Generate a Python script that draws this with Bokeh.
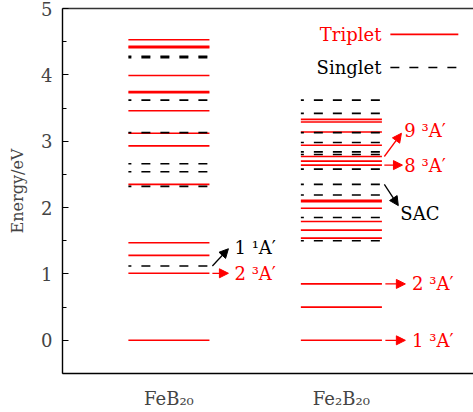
from bokeh.plotting import figure
from bokeh.models import ColumnDataSource, Range1d, FixedTicker, LinearAxis, Arrow, NormalHead
from bokeh.core.properties import value
from bokeh.embed import file_html
from bokeh.resources import INLINE

# ---------------- data ----------------
molecules = ["FeB₂₀", "Fe₂B₂₀"]
feb20_triplet = [0.0, 1.01, 1.28, 1.47, 2.35, 2.93, 3.12, 3.46, 3.73, 3.75, 3.99, 4.41, 4.43, 4.53]
feb20_singlet = [1.12, 2.32, 2.54, 2.66, 3.13, 3.62, 4.26, 4.28]
fe2b20_triplet = [0.0, 0.50, 0.85, 1.54, 1.66, 1.79, 1.99, 2.09, 2.11, 2.64, 2.70, 2.77,
                  2.94, 3.14, 3.29, 3.33]
fe2b20_singlet = [1.50, 1.85, 2.19, 2.35, 2.58, 2.80, 2.84, 2.98, 3.13, 3.42, 3.62]

ann_text = ["1 ¹A′", "2 ³A′", "9 ³A′", "8 ³A′", "SAC", "2 ³A′", "1 ³A′"]
ann_mol = [0, 0, 1, 1, 1, 1, 1]
ann_level = [1.12, 1.01, 2.77, 2.64, 2.35, 0.85, 0.0]
ann_label_e = [1.40, 1.01, 3.16, 2.64, 1.91, 0.85, 0.0]
ann_is_triplet = [False, True, True, True, False, True, True]

legend_labels = ["Triplet", "Singlet"]
legend_e = [4.61, 4.11]

# ---------------- style / layout ----------------
FONT = "DejaVu Serif"
FS = "18px"
RED = "#ff0000"
BLACK = "#000000"
HW = 0.235          # half width of a level line
DASH = "9 10"
LW = 1.6

# arrow end / text offsets relative to the molecule position
arrow_x0 = [0.252, 0.252, 0.249, 0.249, 0.249, 0.255, 0.255]
arrow_x1 = [0.345, 0.345, 0.348, 0.354, 0.330, 0.371, 0.371]
arrow_y1_delta = [-0.02, 0.0, -0.04, 0.0, 0.12, 0.0, 0.0]
text_dx = [0.38, 0.38, 0.365, 0.365, 0.342, 0.41, 0.41]

p = figure(width=473, height=412, output_backend="svg", toolbar_location=None,
           x_range=Range1d(0.383, 2.766), y_range=Range1d(-0.5, 5.0),
           min_border_left=62, min_border_right=0, min_border_top=8, min_border_bottom=39)
p.outline_line_color = None
p.grid.visible = False
p.background_fill_color = "white"
p.border_fill_color = "white"

xpos = [1, 2]

def seg_source(levels, x):
    return ColumnDataSource(dict(x0=[x - HW] * len(levels), x1=[x + HW] * len(levels),
                                 y=levels))

for levels, x in ((feb20_triplet, xpos[0]), (fe2b20_triplet, xpos[1])):
    p.segment(x0="x0", y0="y", x1="x1", y1="y", source=seg_source(levels, x),
              line_color=RED, line_width=LW)
for levels, x in ((feb20_singlet, xpos[0]), (fe2b20_singlet, xpos[1])):
    p.segment(x0="x0", y0="y", x1="x1", y1="y", source=seg_source(levels, x),
              line_color=BLACK, line_width=LW, line_dash=DASH, line_dash_offset=6)

# annotations
for i, t in enumerate(ann_text):
    c = RED if ann_is_triplet[i] else BLACK
    x = xpos[ann_mol[i]]
    y0 = ann_level[i]
    y1 = ann_label_e[i] + arrow_y1_delta[i] if ann_label_e[i] != y0 else y0
    p.add_layout(Arrow(end=NormalHead(size=9, fill_color=c, line_color=c),
                       x_start=x + arrow_x0[i], y_start=y0,
                       x_end=x + arrow_x1[i], y_end=y1,
                       line_color=c, line_width=1.3))
    p.text(x=[x + text_dx[i]], y=[ann_label_e[i]], text=[t], text_color=c,
           text_font=value(FONT), text_font_size=FS, text_baseline="middle",
           text_align="left")

# legend drawn by hand: label then sample line
leg_x_text = 2.232
leg_x0, leg_x1 = 2.284, 2.678
p.text(x=[leg_x_text], y=[legend_e[0]], text=[legend_labels[0]], text_color=RED,
       text_font=value(FONT), text_font_size=FS, text_baseline="middle", text_align="right")
p.text(x=[leg_x_text], y=[legend_e[1]], text=[legend_labels[1]], text_color=BLACK,
       text_font=value(FONT), text_font_size=FS, text_baseline="middle", text_align="right")
p.segment(x0=[leg_x0], y0=[legend_e[0]], x1=[leg_x1], y1=[legend_e[0]], line_color=RED, line_width=LW)
p.segment(x0=[leg_x0], y0=[legend_e[1]], x1=[leg_x1], y1=[legend_e[1]], line_color=BLACK,
          line_width=LW, line_dash=DASH)

# axes
ya = p.yaxis[0]
ya.ticker = FixedTicker(ticks=[0, 1, 2, 3, 4, 5], minor_ticks=[-0.5, 0.5, 1.5, 2.5, 3.5, 4.5])
ya.axis_label = "Energy/eV"
ya.axis_label_text_font = FONT
ya.axis_label_text_font_style = "normal"
ya.axis_label_text_font_size = "16px"
ya.major_label_text_font = FONT
ya.major_label_text_font_size = FS
ya.major_tick_in = 6
ya.major_tick_out = 0
ya.minor_tick_in = 4
ya.minor_tick_out = 0
ya.axis_line_width = 1.4
ya.major_label_standoff = 10
ya.axis_label_standoff = 11

xa = p.xaxis[0]
xa.ticker = FixedTicker(ticks=xpos)
xa.major_label_overrides = {xpos[0]: molecules[0], xpos[1]: molecules[1]}
xa.major_label_text_font = FONT
xa.major_label_text_font_size = FS
xa.major_tick_in = 0
xa.major_tick_out = 0
xa.minor_tick_in = 0
xa.minor_tick_out = 0
xa.axis_line_width = 1.4
xa.major_label_standoff = 14

top = LinearAxis(ticker=FixedTicker(ticks=[]), major_tick_in=0, major_tick_out=0,
                 minor_tick_in=0, minor_tick_out=0, major_label_text_font_size="0px",
                 axis_line_width=1.4, axis_line_color="#333333")
p.add_layout(top, "above")

open("out.html", "w").write(file_html(p, INLINE))
